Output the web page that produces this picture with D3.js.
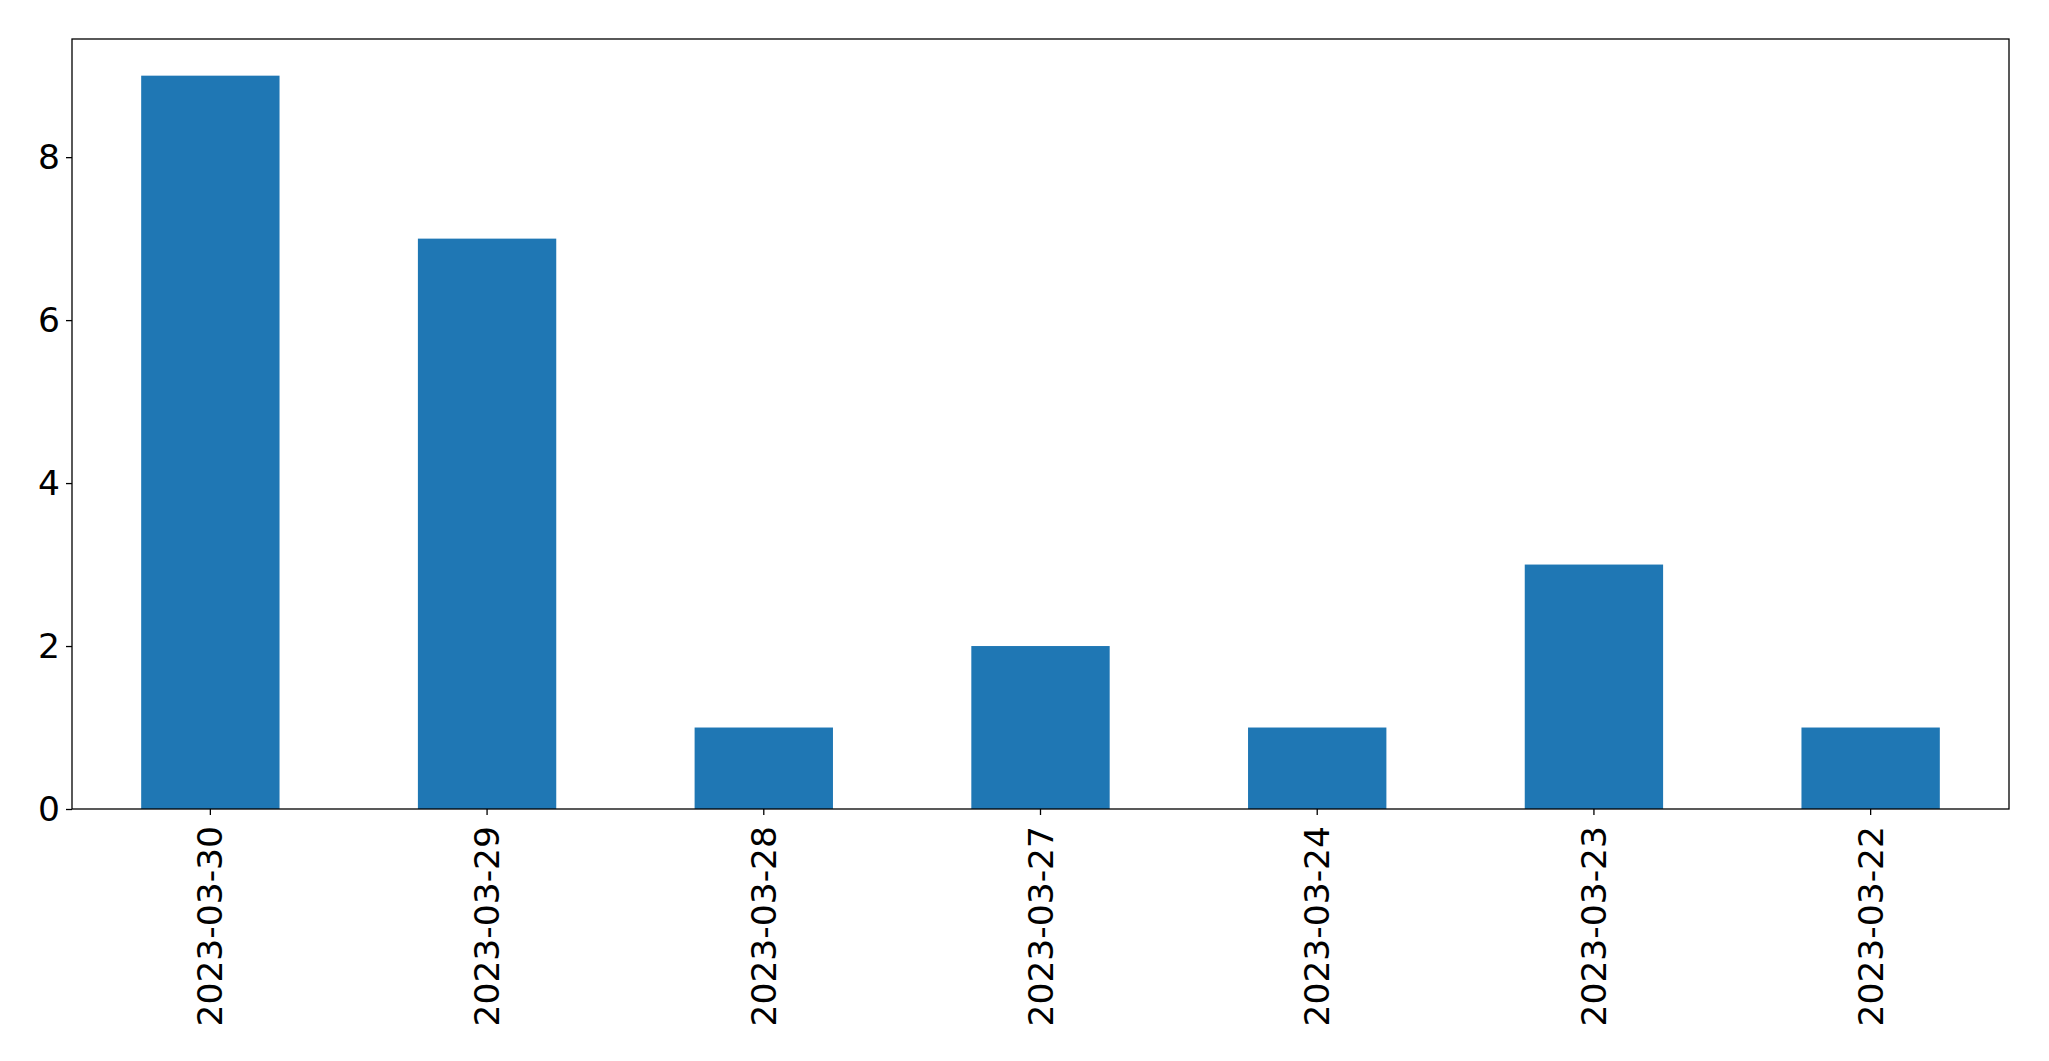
<!DOCTYPE html>
<html><head><meta charset="utf-8">
<script src="https://cdn.jsdelivr.net/npm/d3@7"></script>
<style>body{margin:0;background:#fff}svg{display:block}text{font-family:"DejaVu Sans",sans-serif}</style>
</head><body>
<script>
const categories = ["2023-03-30","2023-03-29","2023-03-28","2023-03-27","2023-03-24","2023-03-23","2023-03-22"];
const values = [9,7,1,2,1,3,1];
const yTicks = [0,2,4,6,8];

const W=2049,H=1061;
const m={left:72,right:2049-2009,top:39,bottom:1061-809};
const svg=d3.select("body").append("svg").attr("width",W).attr("height",H);
const x=d3.scaleBand().domain(categories).range([m.left,W-m.right]).paddingInner(0.5).paddingOuter(0.25);
const y=d3.scaleLinear().domain([0,9.45]).range([H-m.bottom,m.top]);

svg.append("g").selectAll("rect").data(values).join("rect")
 .attr("x",(d,i)=>x(categories[i])).attr("width",x.bandwidth())
 .attr("y",d=>y(d)).attr("height",d=>y(0)-y(d)).attr("fill","#1f77b4");

const fs=34.5;
const xa=svg.append("g").attr("transform",`translate(0,${H-m.bottom})`)
 .call(d3.axisBottom(x).tickSize(6).tickPadding(11).tickSizeOuter(0));
xa.select(".domain").remove();
xa.selectAll("text").attr("font-size",fs).attr("fill","#000").style("font-family","'DejaVu Sans'")
 .attr("transform","rotate(-90)").attr("text-anchor","end").attr("dy","0.35em").attr("x",-17).attr("y",0);
xa.selectAll("line").attr("stroke","#000").attr("stroke-width",1.3);

const ya=svg.append("g").attr("transform",`translate(${m.left},0)`)
 .call(d3.axisLeft(y).tickValues(yTicks).tickSize(6).tickPadding(6));
ya.select(".domain").remove();
ya.selectAll("text").attr("font-size",fs).attr("fill","#000").style("font-family","'DejaVu Sans'");
ya.selectAll("line").attr("stroke","#000").attr("stroke-width",1.3);

svg.append("rect").attr("x",m.left).attr("y",m.top).attr("width",W-m.left-m.right).attr("height",H-m.top-m.bottom)
 .attr("fill","none").attr("stroke","#000").attr("stroke-width",1.3);
</script>
</body></html>
